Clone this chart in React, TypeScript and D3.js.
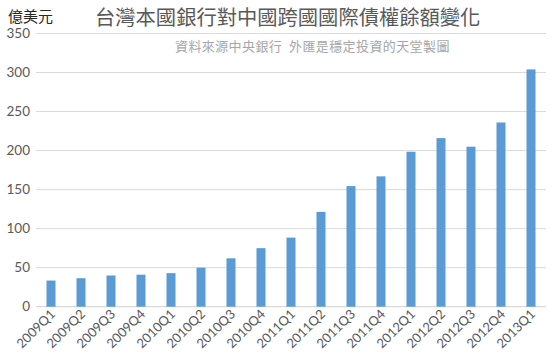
import React from "react";
import * as d3 from "d3";

const categories = ["2009Q1","2009Q2","2009Q3","2009Q4","2010Q1","2010Q2","2010Q3","2010Q4","2011Q1","2011Q2","2011Q3","2011Q4","2012Q1","2012Q2","2012Q3","2012Q4","2013Q1"];
const values = [33.5, 36.5, 40, 41, 43, 50, 62, 75, 88.5, 121.5, 154.5, 167, 198.5, 216, 205, 236, 304];
const yTicks = [0, 50, 100, 150, 200, 250, 300, 350];
const title = "台灣本國銀行對中國跨國國際債權餘額變化";
const subtitleA = "資料來源中央銀行";
const subtitleB = "外匯是穩定投資的天堂製圖";
const unitLabel = "億美元";

export default function App() {
  const W = 553, H = 355;
  const left = 36, right = 546, top = 33.5, bottom = 306.7;
  const x = d3.scaleBand<string>().domain(categories).range([left, right]).paddingInner(0.7).paddingOuter(0.35);
  const y = d3.scaleLinear().domain([0, 350]).range([bottom, top]);
  const cjk = "'Noto Sans CJK TC', 'Noto Sans CJK SC', sans-serif";
  const num = "Lato, 'Noto Sans', sans-serif";
  return (
    <svg width={W} height={H} style={{ position: "absolute", left: 0, top: 0, background: "#fff" }}>
      <rect x={0} y={0} width={W} height={H} fill="#fff" />
      {yTicks.map(t => (
        <g key={t}>
          <line x1={left} x2={right} y1={y(t)} y2={y(t)} stroke={t === 0 ? "#d0d0d0" : "#d9d9d9"} strokeWidth={1} />
          <text x={30} y={y(t)} dy="0.35em" textAnchor="end" fontFamily={num} fontSize={13.5} fill="#595959">{t}</text>
        </g>
      ))}
      {categories.map((c, i) => (
        <rect key={c} x={x(c)} y={y(values[i])} width={x.bandwidth()} height={bottom - y(values[i])} fill="#5b9bd5" />
      ))}
      {categories.map(c => {
        const cx = (x(c) as number) + x.bandwidth() / 2 + 5;
        const cy = 315;
        return (
          <text key={c} x={cx} y={cy} transform={`rotate(-45 ${cx} ${cy})`} textAnchor="end" fontFamily={num} fontSize={13} fill="#595959">{c}</text>
        );
      })}
      <text x={8} y={22} fontFamily={cjk} fontSize={15} fill="#262626">{unitLabel}</text>
      <text x={95} y={25} fontFamily={cjk} fontSize={20.3} fill="#595959">{title}</text>
      <text x={175} y={51} fontFamily={cjk} fontSize={13} letterSpacing={0.4} fill="#a6a6a6">{subtitleA}</text>
      <text x={289} y={51} fontFamily={cjk} fontSize={13} letterSpacing={0.4} fill="#a6a6a6">{subtitleB}</text>
    </svg>
  );
}
